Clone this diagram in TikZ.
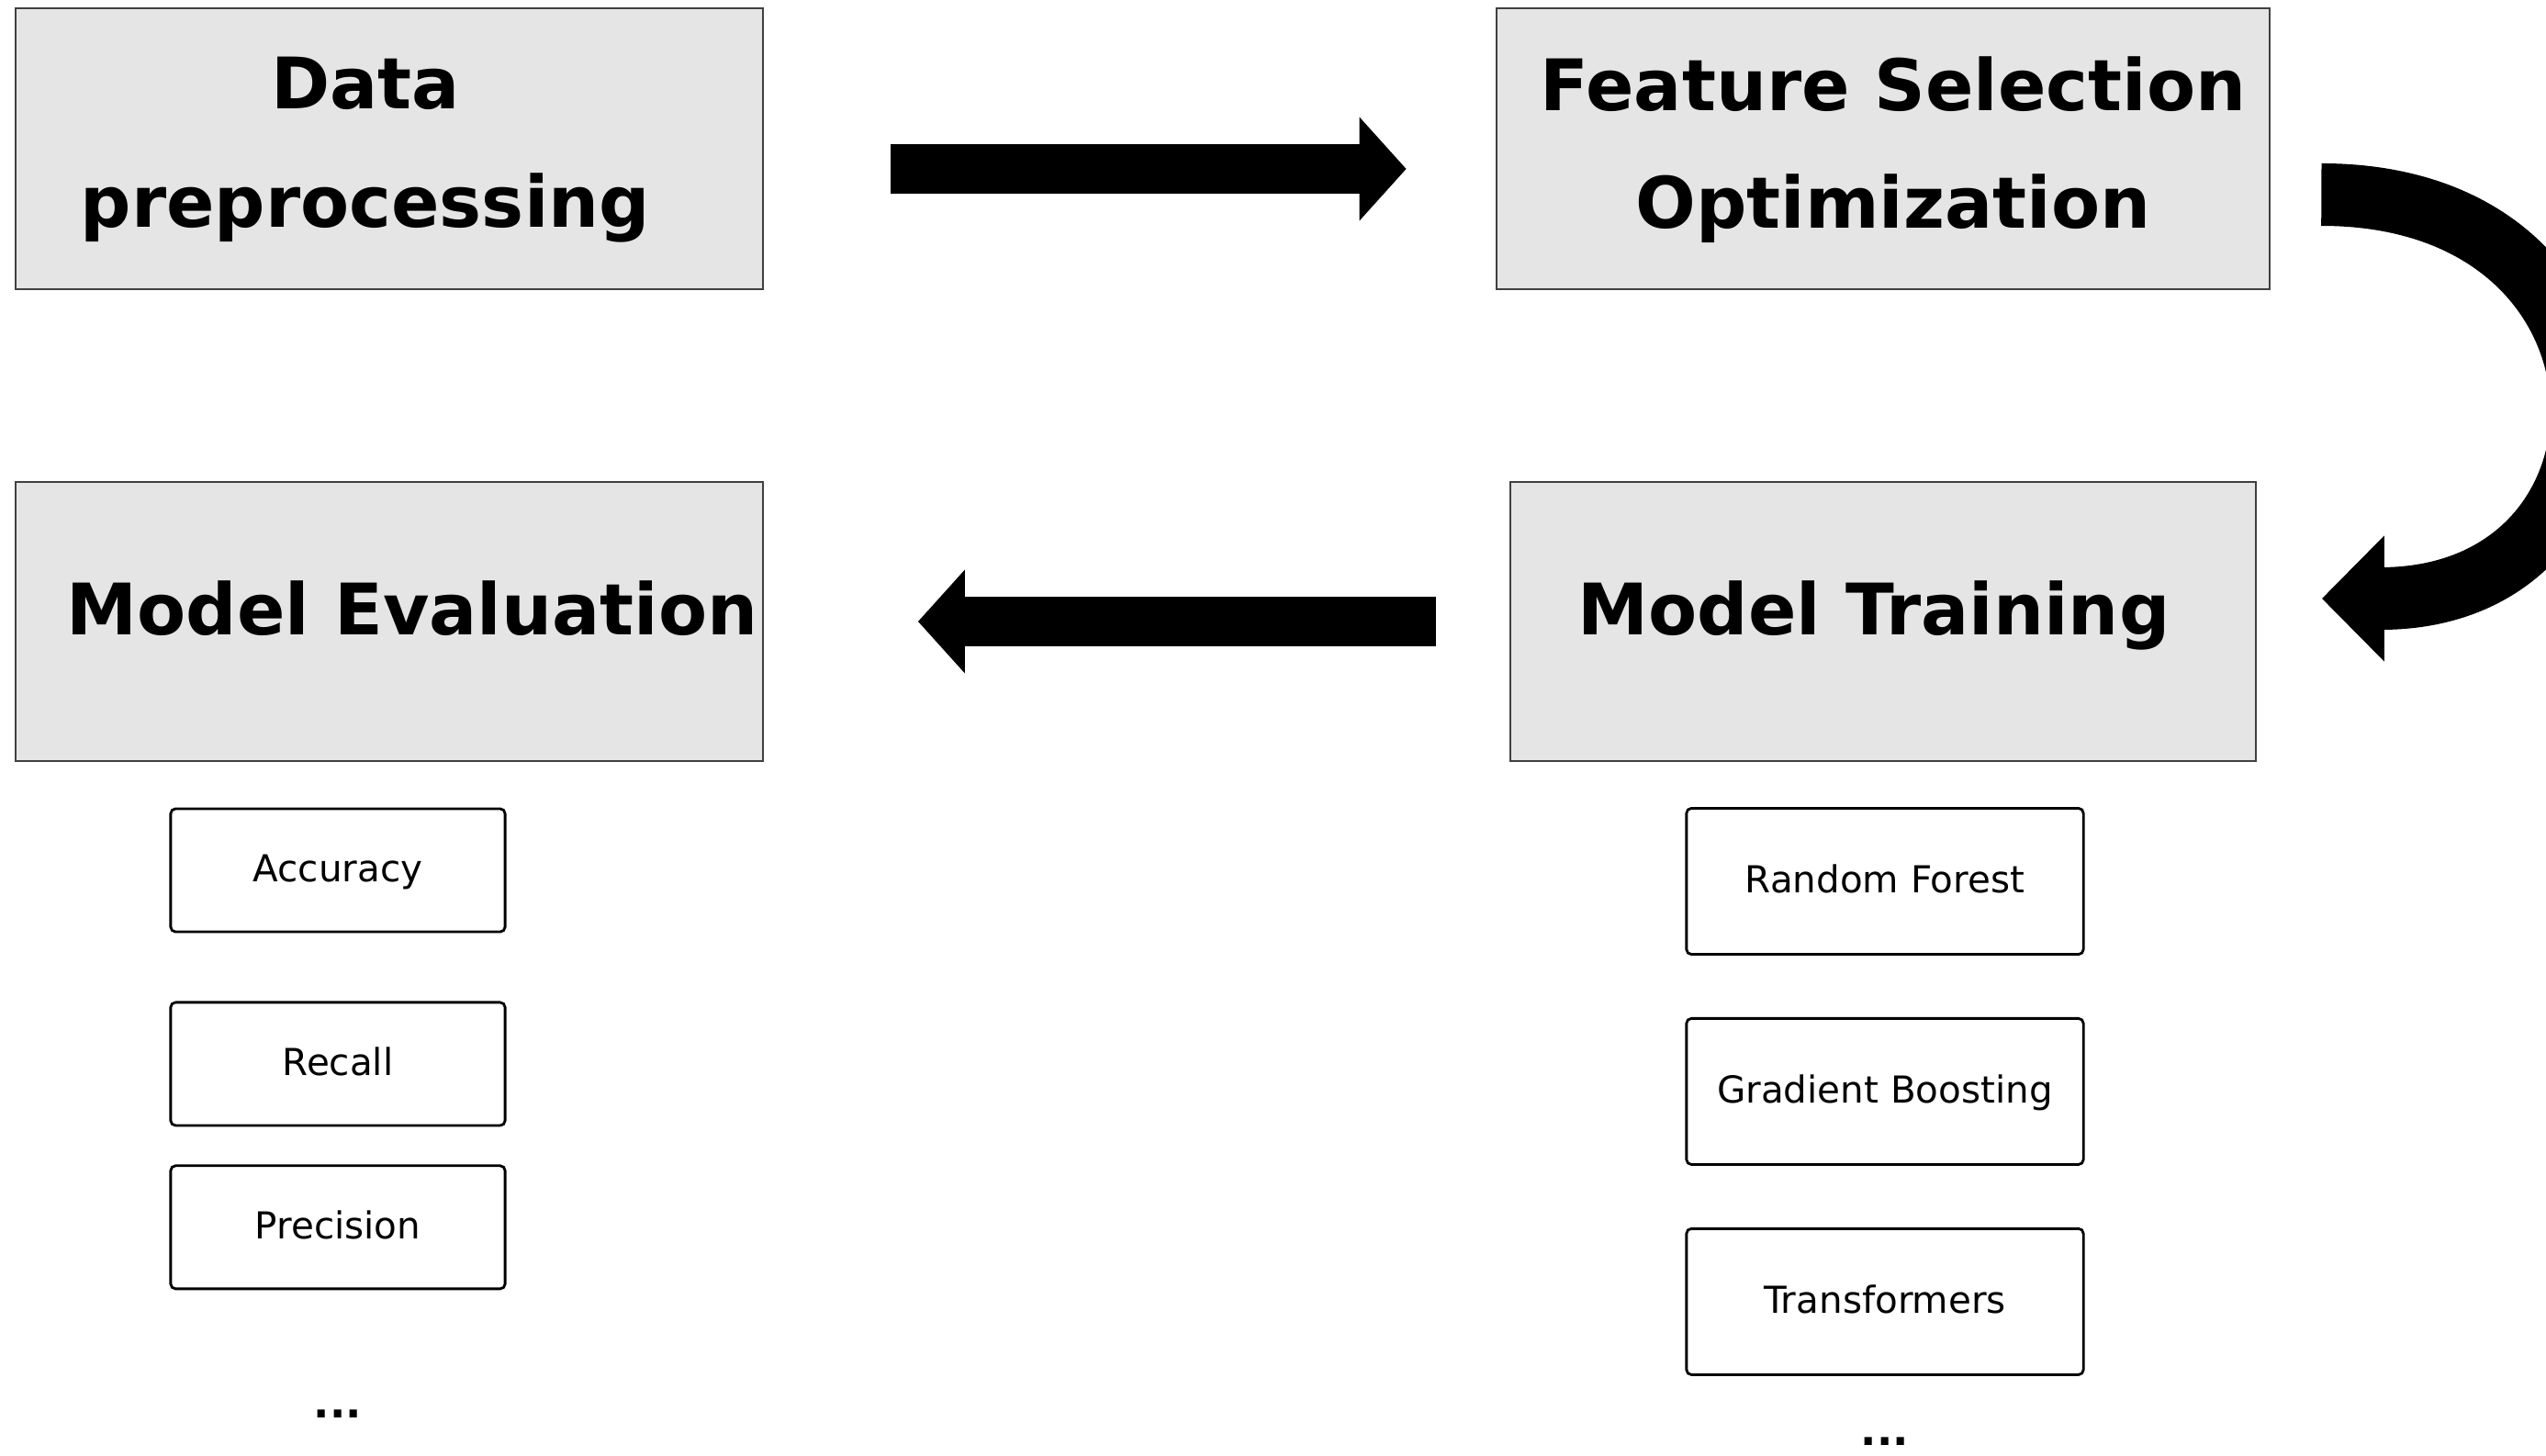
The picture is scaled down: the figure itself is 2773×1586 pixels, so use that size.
\documentclass[tikz,border=0pt]{standalone}
\usepackage{fontspec}
\setmainfont{DejaVu Sans}
\usetikzlibrary{arrows.meta}
\usetikzlibrary{positioning}
\definecolor{boxgray}{rgb}{0.9,0.9,0.9}
\definecolor{edgegray}{rgb}{0.25,0.25,0.25}

\begin{document}
\begin{tikzpicture}[x=0.01cm,y=-0.01cm,
  stagebox/.style={draw=edgegray,line width=0.6pt,fill=boxgray,inner sep=0pt},
  stagetext/.style={font=\fontsize{22}{36.5}\selectfont\bfseries,align=center,inner sep=0pt},
  itembox/.style={draw,line width=0.8pt,rounded corners=1.5pt,inner sep=0pt,
    text height=0.70em,text depth=0pt,font=\fontsize{11.5}{14}\selectfont},
  leftitem/.style={itembox,minimum width=3.64cm,minimum height=1.34cm},
  rightitem/.style={itembox,minimum width=4.32cm,minimum height=1.59cm},
  moredots/.style={inner sep=0pt,font=\fontsize{13}{14}\selectfont\bfseries},
  blockarrow/.style={line width=0.53cm,-{Triangle[length=0.51cm,width=1.1cm]}}]
\useasboundingbox (0,0) rectangle (2773,1586);
\clip (0,0) rectangle (2773,1586);
% four stages
\node[stagebox,minimum width=8.13cm,minimum height=3.06cm] (dp) at (424,162) {};
\node[stagebox,minimum width=8.42cm,minimum height=3.06cm] (fso) at (2051,162) {};
\node[stagebox,minimum width=8.13cm,minimum height=3.04cm] (me) at (424,677) {};
\node[stagebox,minimum width=8.11cm,minimum height=3.04cm] (mt) at (2051,677) {};
\node[stagetext] (dptext) at (398,163) {Data\\preprocessing};
\node[stagetext] (fsotext) at (2062,163) {Feature Selection\\Optimization};
\node[stagetext,anchor=base] (metext) at (449,692) {Model Evaluation};
\node[stagetext,anchor=base] (mttext) at (2041,692) {Model Training};
% flow
\draw[blockarrow,shorten <=1.38cm,shorten >=0.97cm] (dp.east |- 0,184) -- (fso.west |- 0,184);
\draw[line width=0.68cm,-{Triangle[length=0.68cm,width=1.33cm]},shorten <=0.55cm,shorten >=0.71cm]
  (fso.east |- 0,212) .. controls (2895,212) and (2895,652) .. (mt.east |- 0,652);
\draw[blockarrow,shorten <=0.80cm,shorten >=1.68cm] (mt.west |- 0,677) -- (me.east |- 0,677);
% metrics
\node[leftitem] (acc) at (368,948) {Accuracy};
\node[leftitem,below=0.74cm of acc] (rec) {Recall};
\node[leftitem,below=0.41cm of rec] (prec) {Precision};
\node[moredots,below=1.30cm of prec] (medots) {...};
% models
\node[rightitem] (rf) at (2053,960) {Random Forest};
\node[rightitem,below=0.67cm of rf] (gb) {Gradient Boosting};
\node[rightitem,below=0.67cm of gb] (tr) {Transformers};
\node[moredots,below=0.66cm of tr] (mtdots) {...};
\end{tikzpicture}
\end{document}
